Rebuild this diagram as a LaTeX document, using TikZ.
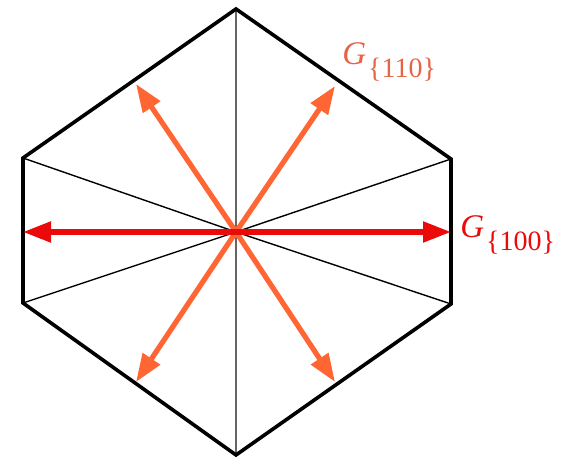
\documentclass[tikz,border=0pt]{standalone}
\usepackage{fontspec}
\setmainfont{Liberation Serif}
\usetikzlibrary{arrows.meta}
\definecolor{vecred}{RGB}{235,10,10}
\definecolor{vecorange}{RGB}{255,102,51}
\definecolor{lblorange}{RGB}{230,100,70}
\newcommand{\gvec}[1]{\textit{G}\kern1pt\raisebox{-6.5pt}{\fontsize{14}{15}\selectfont\{#1\}}}

\begin{document}
\begin{tikzpicture}[x=0.5pt,y=-0.5pt,
    edge/.style={line width=1.8pt, line join=miter},
    spoke/.style={line width=0.7pt},
    vec/.style={line width=2.6pt, -{Triangle[length=14pt,width=10pt]}},
    lbl/.style={anchor=base west, inner sep=0pt, font=\fontsize{16.5}{18}\selectfont}]
    \useasboundingbox (0,0) rectangle (568,458);

    % Вершини шестикутника
    \coordinate (T) at (236,9);
    \coordinate (UR) at (451,159);
    \coordinate (LR) at (451,304);
    \coordinate (Bt) at (236,455);
    \coordinate (LL) at (23,303);
    \coordinate (UL) at (23,158);

    % Центр
    \coordinate (O) at (236,232);

    % Кінці векторів
    \coordinate (L) at (23,232);
    \coordinate (R) at (451,232);
    \coordinate (P1) at (136,84);
    \coordinate (P2) at (335,86);
    \coordinate (P3) at (136,382);
    \coordinate (P4) at (335,382);

    % Відрізки з центру до вершин
    \draw[spoke, black!60] (O) -- (T);
    \draw[spoke, black!60] (O) -- (Bt);
    \foreach \v in {UL,LL,UR,LR}
        \draw[spoke] (O) -- (\v);

    % Шестикутник
    \draw[edge] (T) -- (UR) -- (LR) -- (Bt) -- (LL) -- (UL) -- cycle;

    % Вектори {110}
    \foreach \p in {P1,P2,P3,P4}
        \draw[vec, vecorange] (O) -- (\p);

    % Вектор {100}
    \draw[vec, vecred, {Triangle[length=14pt,width=10pt]}-{Triangle[length=14pt,width=10pt]}] (L) -- (R);

    % Підписи
    \node[lbl, text=lblorange] (g110) at (342,65) {\gvec{110}};
    \node[lbl, text=vecred] (g100) at (460,238) {\gvec{100}};
\end{tikzpicture}
\end{document}
